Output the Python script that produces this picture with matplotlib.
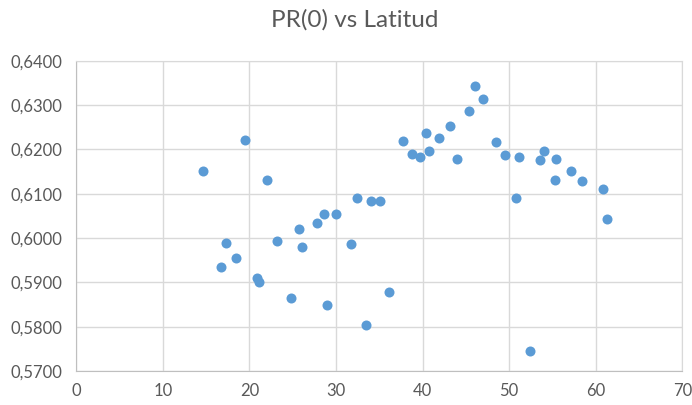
import matplotlib.pyplot as plt
from matplotlib.ticker import FuncFormatter

# latitud y PR(0)
latitud = [14.66, 19.52, 22.07, 17.25, 18.48, 16.75, 20.92, 21.10, 23.15, 25.70,
           26.08, 24.85, 27.78, 28.63, 30.02, 28.98, 31.76, 32.45, 34.03, 33.50,
           35.07, 36.11, 37.78, 38.82, 39.70, 40.44, 40.79, 41.94, 43.14, 44.03,
           45.42, 46.11, 47.00, 48.50, 49.54, 51.12, 50.74, 52.36, 53.55, 54.05,
           55.44, 55.25, 57.14, 58.38, 60.81, 61.31]
pr0 = [0.6151, 0.6222, 0.6132, 0.5989, 0.5956, 0.5935, 0.5909, 0.5901, 0.5993, 0.6020,
       0.5980, 0.5865, 0.6034, 0.6054, 0.6054, 0.5848, 0.5987, 0.6091, 0.6084, 0.5804,
       0.6084, 0.5878, 0.6220, 0.6189, 0.6182, 0.6236, 0.6196, 0.6226, 0.6253, 0.6178,
       0.6287, 0.6344, 0.6313, 0.6216, 0.6188, 0.6182, 0.6091, 0.5744, 0.6175, 0.6197,
       0.6178, 0.6132, 0.6152, 0.6128, 0.6111, 0.6043]
xticks = [0, 10, 20, 30, 40, 50, 60, 70]
yticks = [0.57, 0.58, 0.59, 0.60, 0.61, 0.62, 0.63, 0.64]

plt.rcParams['font.family'] = ['Lato', 'DejaVu Sans']
gris = '#595959'
linea = '#D9D9D9'

fig = plt.figure(figsize=(6.92, 4.05), dpi=100)
ax = fig.add_axes([0.110, 0.084, 0.876, 0.766])
ax.scatter(latitud, pr0, s=52, color='#5B9BD5', zorder=3, linewidths=0)

ax.set_xlim(0, 70)
ax.set_ylim(0.57, 0.64)
ax.set_xticks(xticks)
ax.set_yticks(yticks)
ax.yaxis.set_major_formatter(FuncFormatter(lambda v, p: f'{v:.4f}'.replace('.', ',')))
ax.grid(True, color=linea, linewidth=1)
ax.set_axisbelow(True)
for s in ax.spines.values():
    s.set_color(linea)
ax.spines['left'].set_color('#BFBFBF')
ax.spines['bottom'].set_color('#BFBFBF')
ax.tick_params(length=0, labelsize=12, labelcolor=gris, pad=10)
ax.tick_params(axis='x', pad=9)

fig.text(0.513, 0.95, 'PR(0) vs Latitud', ha='center', va='center',
         fontsize=17.5, color=gris)

fig.savefig('out.png', dpi=100)
